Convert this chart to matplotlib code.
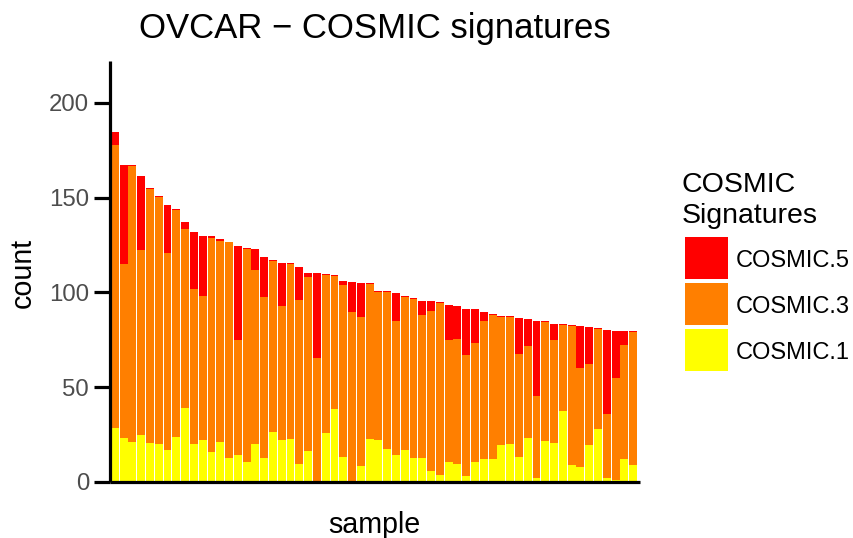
import matplotlib
matplotlib.use("Agg")
import matplotlib.pyplot as plt
import numpy as np
from matplotlib.patches import Rectangle

plt.rcParams['font.family'] = ['Liberation Sans', 'DejaVu Sans']

# COSMIC signature counts per sample (sorted by total)
cosmic1 = [28.6, 23.3, 21.0, 24.7, 20.5, 19.9, 16.8, 23.6, 39.0, 19.9,
           22.0, 15.7, 21.0, 12.5, 14.1, 10.4, 19.9, 12.5, 26.3, 22.0,
           22.6, 9.3, 16.2, 0.0, 25.7, 38.4, 13.1, 0.0, 8.3, 22.6,
           22.0, 17.3, 14.1, 16.8, 12.5, 12.5, 5.6, 3.5, 10.4, 9.3,
           3.0, 10.4, 12.0, 12.0, 19.4, 19.9, 13.1, 23.1, 1.9, 21.5,
           20.5, 37.4, 8.8, 7.8, 19.4, 27.9, 1.9, 0.9, 12.0, 8.8]
cosmic3 = [149.0, 91.9, 145.5, 97.9, 133.8, 130.2, 104.2, 119.6, 94.2, 82.0,
           76.2, 113.2, 106.3, 113.8, 60.9, 112.7, 92.1, 85.2, 90.5, 70.9,
           92.6, 86.8, 92.1, 65.4, 83.6, 70.4, 91.0, 89.8, 78.8, 82.0,
           78.4, 83.1, 70.9, 80.9, 84.1, 75.7, 84.7, 91.0, 64.6, 66.2,
           64.0, 63.0, 73.0, 76.2, 67.7, 67.2, 54.4, 48.7, 43.4, 63.0,
           54.5, 45.5, 73.6, 52.3, 42.9, 52.9, 33.7, 54.0, 60.3, 70.4]
cosmic5 = [6.9, 51.8, 0.5, 38.6, 0.5, 0.5, 24.9, 0.5, 3.7, 29.7,
           31.3, 0.6, 0.6, 0.5, 49.2, 0.5, 11.1, 21.2, 0.5, 22.8,
           0.5, 17.5, 2.1, 45.0, 0.6, 0.5, 2.1, 15.8, 18.0, 0.5,
           0.5, 0.5, 14.8, 0.5, 0.6, 7.4, 5.3, 0.6, 18.5, 17.4,
           24.4, 18.0, 4.8, 0.5, 0.6, 0.6, 19.1, 14.3, 39.7, 0.5,
           8.4, 0.5, 0.5, 22.3, 19.5, 0.5, 44.6, 24.8, 7.4, 0.5]
sig_labels = ["COSMIC.5", "COSMIC.3", "COSMIC.1"]
sig_colors = ["#FF0000", "#FF7F00", "#FFFF00"]
y_ticks = [0, 50, 100, 150, 200]

W, H = 854, 538
fig = plt.figure(figsize=(W / 100, H / 100), dpi=100)
ax = fig.add_axes([110 / W, 1 - 482 / H, 530 / W, (482 - 61) / H])

x = np.arange(1, len(cosmic1) + 1)
c1 = np.array(cosmic1)
c3 = np.array(cosmic3)
c5 = np.array(cosmic5)
ax.bar(x, c1, width=0.9, color=sig_colors[2], linewidth=0)
ax.bar(x, c3, bottom=c1, width=0.9, color=sig_colors[1], linewidth=0)
ax.bar(x, c5, bottom=c1 + c3, width=0.9, color=sig_colors[0], linewidth=0)

ax.set_xlim(0.45, len(x) + 0.78)
ax.set_ylim(0, 222)
ax.set_yticks(y_ticks)
ax.set_yticklabels([str(v) for v in y_ticks])
ax.set_xticks([])

for s in ['top', 'right']:
    ax.spines[s].set_visible(False)
for s in ['left', 'bottom']:
    ax.spines[s].set_linewidth(2.3)
    ax.spines[s].set_color('black')
    ax.spines[s].set_capstyle('butt')
ax.tick_params(axis='y', length=11.5, width=2.3, color='black',
               labelsize=17.3, labelcolor='#4D4D4D', pad=3.5)

fig.text(375 / W, 1 - 38 / H, "OVCAR \u2212 COSMIC signatures", ha='center',
         va='baseline', fontsize=25)
fig.text(374 / W, 1 - 533 / H, "sample", ha='center', va='baseline', fontsize=20.6)
fig.text(23 / W, 1 - 273 / H, "count", ha='center', va='center',
         rotation=90, fontsize=20.6)

# legend (title + keys), laid out in figure pixels
fig.text(682 / W, 1 - 192 / H, "COSMIC", ha='left', va='baseline', fontsize=20.5)
fig.text(682 / W, 1 - 223 / H, "Signatures", ha='left', va='baseline', fontsize=20.5)
key_left, key_w, key_h, key_pitch, key_top0 = 685, 43, 42, 46, 237
for i, (lab, col) in enumerate(zip(sig_labels, sig_colors)):
    top = key_top0 + i * key_pitch
    fig.add_artist(Rectangle((key_left / W, 1 - (top + key_h) / H), key_w / W, key_h / H,
                             transform=fig.transFigure, facecolor=col, edgecolor='none'))
    fig.text(736 / W, 1 - (top + key_h - 12) / H, lab, ha='left', va='baseline',
             fontsize=17)

fig.savefig("out.png", dpi=100)
